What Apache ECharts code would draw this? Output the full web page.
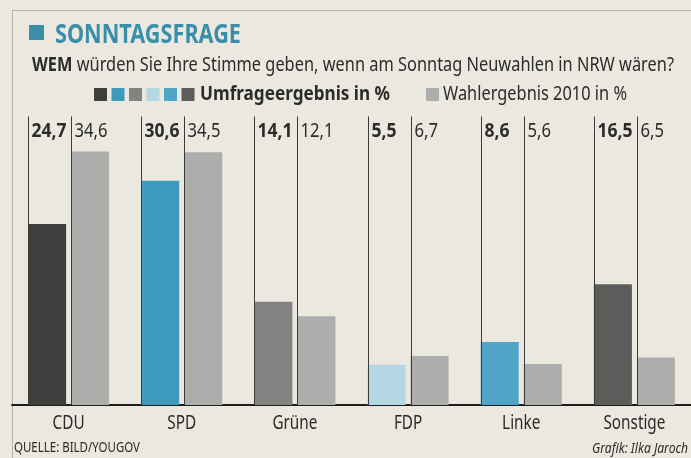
<!DOCTYPE html>
<html>
<head>
<meta charset="utf-8">
<script src="https://cdn.jsdelivr.net/npm/echarts@6/dist/echarts.min.js"></script>
<style>
  html, body { margin: 0; padding: 0; background: #ebe8e0; }
  #chart { width: 691px; height: 458px; }
</style>
</head>
<body>
<div id="chart"></div>
<script>
// Sonntagsfrage NRW
const parties = ['CDU', 'SPD', 'Grüne', 'FDP', 'Linke', 'Sonstige']
const umfrage = [24.7, 30.6, 14.1, 5.5, 8.6, 16.5]
const wahl2010 = [34.6, 34.5, 12.1, 6.7, 5.6, 6.5]
const umfrageColors = ['#3c3f3b', '#3f9bbd', '#838381', '#b4d7e4', '#50a5c7', '#5c5d5a']
const wahlColor = '#adadab'

const FAMILY = '"Noto Sans", sans-serif'
const INK = '#2b2b29'
const TEAL = '#3a8ea8'
const BAR_W = 38
const BAR_GAP = 5
const LINE_TOP = 39.4

// the newspaper uses a condensed face, so squeeze text horizontally to its width
const measureCtx = document.createElement('canvas').getContext('2d')
function textWidth(text, font) {
  measureCtx.font = font
  return measureCtx.measureText(text).width
}
function fitScale(text, font, width) {
  return width / textWidth(text, font)
}
const font = (size, weight, style) => (style || '') + ' ' + (weight || 'normal') + ' ' + size + 'px ' + FAMILY

const F_VAL_B = font(19, 'bold')
const F_VAL = font(19)
const F_CAT = font(20)
const sValB = fitScale('24,7', F_VAL_B, 35)
const sVal = fitScale('34,6', F_VAL, 33)
const sCat = fitScale('Sonstige', F_CAT, 62)

const fmt = v => String(v).replace('.', ',')

const chart = echarts.init(document.getElementById('chart'))

// vertical guide line + value label at the left edge of each bar, party name below
function labelItem(params, api) {
  const idx = api.value(0)
  const val = api.value(1)
  const s = api.value(2)
  const base = api.coord([idx, 0])
  const top = api.coord([idx, LINE_TOP])
  const groupW = BAR_W * 2 + BAR_GAP
  const x = Math.round(base[0] - groupW / 2 + s * (BAR_W + BAR_GAP)) + 0.5
  const children = [
    {
      type: 'line',
      shape: { x1: x, y1: top[1], x2: x, y2: base[1] },
      style: { stroke: '#3a3a38', lineWidth: 1 },
    },
    {
      type: 'text',
      x: x + 3,
      y: top[1] + 15,
      scaleX: s === 0 ? sValB : sVal,
      style: {
        text: fmt(val),
        fill: INK,
        font: s === 0 ? F_VAL_B : F_VAL,
        textVerticalAlign: 'middle',
      },
    },
  ]
  if (s === 0) {
    children.push({
      type: 'text',
      x: base[0],
      y: base[1] + 18,
      scaleX: sCat,
      style: {
        text: parties[idx],
        fill: INK,
        font: F_CAT,
        textAlign: 'center',
        textVerticalAlign: 'middle',
      },
    })
  }
  return { type: 'group', children: children }
}

const labelData = []
for (let i = 0; i < parties.length; i++) {
  labelData.push([i, umfrage[i], 0])
  labelData.push([i, wahl2010[i], 1])
}

// header, legend and footer texts
const F_TITLE = font(26, 'bold')
const F_SUB_B = font(19, 'bold')
const F_SUB = font(19)
const subRest = ' würden Sie Ihre Stimme geben, wenn am Sonntag Neuwahlen in NRW wären?'
const sSub = 642 / (textWidth('WEM', F_SUB_B) + textWidth(subRest, F_SUB))
const F_LEG_B = font(19, 'bold')
const F_LEG = font(19)
const F_SRC = font(15)
const F_CREDIT = font(14, 'normal', 'italic')

function txt(x, y, text, f, scale, align, color) {
  return {
    type: 'text',
    x: x,
    y: y,
    scaleX: scale,
    silent: true,
    style: { text: text, font: f, fill: color || INK, textAlign: align || 'left', textVerticalAlign: 'middle' },
  }
}

const graphics = [
  {
    type: 'rect',
    shape: { x: 12.5, y: 10.5, width: 700, height: 470 },
    style: { fill: 'none', stroke: '#7a7a78', lineWidth: 1, lineDash: [1, 1] },
    silent: true,
  },
  { type: 'rect', shape: { x: 29, y: 25, width: 15, height: 15 }, style: { fill: TEAL }, silent: true },
  txt(55, 35.5, 'SONNTAGSFRAGE', F_TITLE, fitScale('SONNTAGSFRAGE', F_TITLE, 186), 'left', TEAL),
  txt(32, 66, 'WEM', F_SUB_B, sSub),
  txt(32 + textWidth('WEM', F_SUB_B) * sSub, 66, subRest, F_SUB, sSub),
  txt(200, 95, 'Umfrageergebnis in %', F_LEG_B, fitScale('Umfrageergebnis in %', F_LEG_B, 190)),
  { type: 'rect', shape: { x: 426, y: 88, width: 13, height: 13 }, style: { fill: wahlColor }, silent: true },
  txt(443, 95, 'Wahlergebnis 2010 in %', F_LEG, fitScale('Wahlergebnis 2010 in %', F_LEG, 184)),
  txt(14, 448, 'QUELLE: BILD/YOUGOV', F_SRC, fitScale('QUELLE: BILD/YOUGOV', F_SRC, 126)),
  txt(688, 449, 'Grafik: Ilka Jaroch', F_CREDIT, fitScale('Grafik: Ilka Jaroch', F_CREDIT, 96), 'right'),
]
umfrageColors.forEach((c, i) => {
  graphics.push({
    type: 'rect',
    shape: { x: 94 + i * 17.5, y: 88, width: 13, height: 13 },
    style: { fill: c },
    silent: true,
  })
})

chart.setOption({
  backgroundColor: '#ebe8e0',
  animation: false,
  graphic: graphics,
  grid: { left: 12, right: 0, top: 112, bottom: 53 },
  xAxis: {
    type: 'category',
    data: parties,
    axisLine: { lineStyle: { color: '#1e1e1c', width: 2 } },
    axisTick: { show: false },
    axisLabel: { show: false },
  },
  yAxis: {
    type: 'value',
    min: 0,
    max: 40,
    show: false,
    splitLine: { show: false },
  },
  series: [
    {
      name: 'Umfrageergebnis in %',
      type: 'bar',
      barWidth: BAR_W,
      barGap: (BAR_GAP / BAR_W * 100) + '%',
      data: umfrage.map((v, i) => ({ value: v, itemStyle: { color: umfrageColors[i] } })),
    },
    {
      name: 'Wahlergebnis 2010 in %',
      type: 'bar',
      barWidth: BAR_W,
      itemStyle: { color: wahlColor },
      data: wahl2010,
    },
    {
      type: 'custom',
      renderItem: labelItem,
      data: labelData,
      clip: false,
      z: 5,
      silent: true,
    },
  ],
})
</script>
</body>
</html>
